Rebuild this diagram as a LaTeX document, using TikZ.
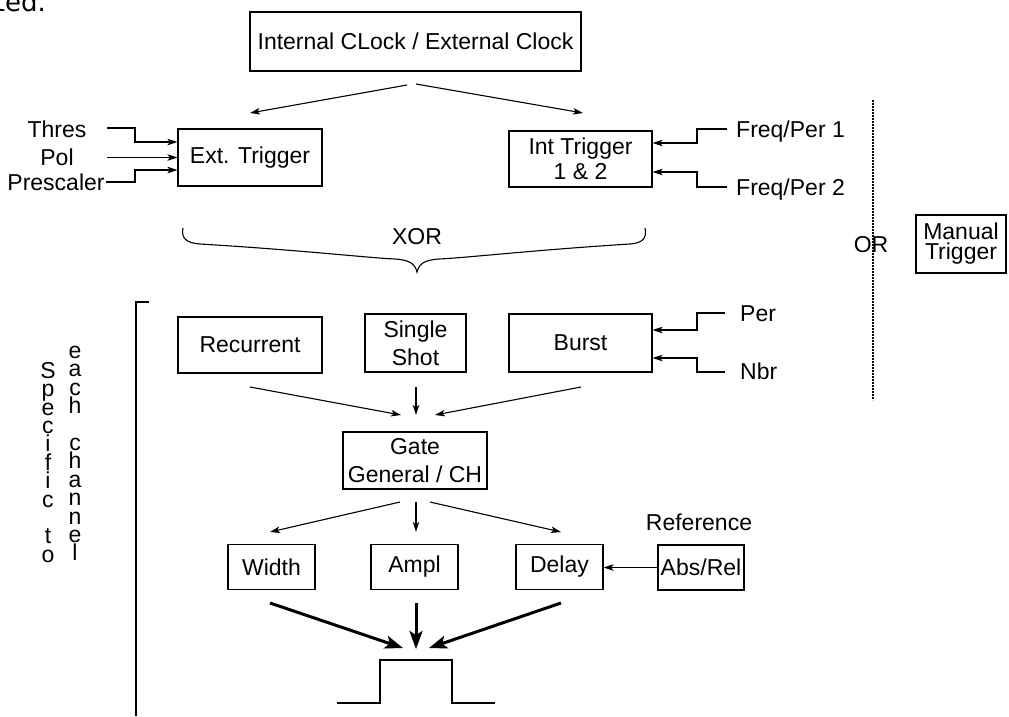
\documentclass[tikz,border=0pt]{standalone}
\usepackage{fontspec}
\setmainfont{Liberation Sans}
\newfontfamily\fragfont{DejaVu Sans}
\usetikzlibrary{arrows.meta}
\begin{document}
\begin{tikzpicture}[x=1pt,y=-1pt,
  font=\fontsize{23}{27}\selectfont,
  box/.style={draw, line width=1.2pt, inner sep=0pt, align=center},
  lbl/.style={inner sep=0pt},
  wire/.style={line width=1.1pt},
  arr/.style={line width=1.1pt, -{Stealth[length=10pt,width=6.5pt,inset=2.5pt]}},
  bigarr/.style={line width=3pt, -{Stealth[length=18pt,width=13pt,inset=4pt]}},
  stack/.style={inner sep=0pt, anchor=north, align=center, font=\fontsize{23}{18.4}\selectfont}]
\useasboundingbox (0,0) rectangle (1009,716);

% clipped text fragment at the top left
\node[lbl, anchor=base east, font=\fragfont\fontsize{26}{28}\selectfont] (frag) at (46,11) {ted.};

% boxes
\node[box, minimum width=331pt, minimum height=59pt] (clk) at (415.5,41.5) {Internal CLock / External Clock};
\node[box, minimum width=144pt, minimum height=57pt] (ext) at (250,157.5) {Ext. Trigger};
\node[box, minimum width=143pt, minimum height=56pt, font=\fontsize{23}{25}\selectfont] (int) at (580.5,159) {Int Trigger\\1 \& 2};
\node[box, minimum width=90pt, minimum height=58pt, font=\fontsize{23}{20}\selectfont] (man) at (961,244) {Manual\\Trigger};
\node[box, minimum width=144pt, minimum height=56pt] (rec) at (250,345) {Recurrent};
\node[box, minimum width=101pt, minimum height=58pt, font=\fontsize{23}{28}\selectfont] (sgl) at (415.5,343) {Single\\Shot};
\node[box, minimum width=143pt, minimum height=58pt] (bst) at (580.5,343) {Burst};
\node[box, minimum width=144pt, minimum height=57pt, font=\fontsize{23}{28}\selectfont] (gate) at (415,460.5) {Gate\\General / CH};
\node[box, minimum width=87pt, minimum height=45pt] (wid) at (271.5,567) {Width};
\node[box, minimum width=87pt, minimum height=45pt] (amp) at (414.5,567) {Ampl};
\node[box, minimum width=87pt, minimum height=45pt] (dly) at (559.5,567) {Delay};
\node[box, minimum width=86pt, minimum height=45pt] (abs) at (701,567.5) {Abs/Rel};

% labels
\node[lbl] (thr) at (57,129) {Thres};
\node[lbl] (pol) at (57,157.5) {Pol};
\node[lbl] (pre) at (56,182) {Prescaler};
\node[lbl, anchor=base west] (fp1) at (736,137) {Freq/Per 1};
\node[lbl, anchor=base west] (fp2) at (736,195) {Freq/Per 2};
\node[lbl, anchor=base west] (per) at (740,321) {Per};
\node[lbl, anchor=base west] (nbr) at (740,379) {Nbr};
\node[lbl] (xor) at (417,237) {XOR};
\node[lbl] (or) at (871,245) {OR};
\node[lbl] (ref) at (699,522) {Reference};
\node[stack] (spec) at (48,362) {S\\p\\e\\c\\i\\f\\i\\c\\~\\t\\o};
\node[stack] (each) at (75,346) {e\\a\\c\\h\\~\\c\\h\\a\\n\\n\\e\\l};

% clock arrows
\coordinate (ca) at (407,85);  \coordinate (cb) at (250,113);
\coordinate (cc) at (416,84);  \coordinate (cd) at (583,113);
\draw[arr] (ca) -- (cb);
\draw[arr] (cc) -- (cd);

% ext trigger inputs
\coordinate (thr0) at (107,128);
\coordinate (pol0) at (107,157.5);
\coordinate (pre0) at (106,182);
\draw[arr] (thr0) -- ++(28,0) |- ([yshift=15.5pt]ext.west);
\draw[arr] (pol0) -- (ext.west);
\draw[arr] (pre0) -- ++(29,0) |- ([yshift=-12.5pt]ext.west);

% int trigger inputs
\coordinate (fp1a) at (727,129);
\coordinate (fp2a) at (727,187);
\draw[arr] (fp1a) -- ++(-30,0) |- ([yshift=16pt]int.east);
\draw[arr] (fp2a) -- ++(-30,0) |- ([yshift=-13pt]int.east);

% brace
\draw[wire] (183,228) .. controls (181,238) and (186,243) .. (200,244)
  .. controls (300,250) and (370,258) .. (395,259)
  .. controls (410,260) and (415,264) .. (417,272)
  .. controls (419,264) and (424,260) .. (439,259)
  .. controls (464,258) and (534,250) .. (630,244)
  .. controls (643,243) and (647,238) .. (645,228);

% OR separator
\draw[line width=1.6pt, dash pattern=on 1.6pt off 1.4pt] (873,100) -- (873,400);

% channel bracket
\draw[wire] (149,302) -- (136,302) -- (136,716);

% burst inputs
\coordinate (pera) at (725,313);
\coordinate (nbra) at (725,372);
\draw[arr] (pera) -- ++(-28,0) |- ([yshift=13pt]bst.east);
\draw[arr] (nbra) -- ++(-28,0) |- ([yshift=-15pt]bst.east);

% to gate
\coordinate (m1s) at (250,387); \coordinate (m1e) at (401,415);
\coordinate (m2s) at (416,387); \coordinate (m2e) at (416,415);
\coordinate (m3s) at (581,387); \coordinate (m3e) at (435,415);
\draw[arr] (m1s) -- (m1e);
\draw[arr] (m2s) -- (m2e);
\draw[arr] (m3s) -- (m3e);

% from gate
\coordinate (g1s) at (400,502); \coordinate (g1e) at (270,532);
\coordinate (g2s) at (416,502); \coordinate (g2e) at (416,532);
\coordinate (g3s) at (430,502); \coordinate (g3e) at (561,532);
\draw[arr] (g1s) -- (g1e);
\draw[arr] (g2s) -- (g2e);
\draw[arr] (g3s) -- (g3e);

% reference
\draw[arr] (abs.west) -- (dly.east |- abs.west);

% thick arrows to pulse
\coordinate (t1s) at (270,603); \coordinate (t1e) at (403,648);
\coordinate (t2s) at (416,603); \coordinate (t2e) at (416,649);
\coordinate (t3s) at (561,603); \coordinate (t3e) at (429,648);
\draw[bigarr] (t1s) -- (t1e);
\draw[bigarr] (t2s) -- (t2e);
\draw[bigarr] (t3s) -- (t3e);

% pulse
\draw[wire] (337,703) -- (380,703) -- (380,660) -- (452,660) -- (452,703) -- (495,703);
\end{tikzpicture}
\end{document}
